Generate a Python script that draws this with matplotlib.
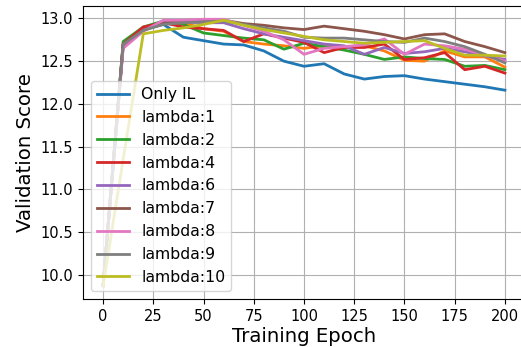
import matplotlib
matplotlib.use("Agg")
import matplotlib.pyplot as plt

# ---------- Data ----------
epochs = list(range(0, 201, 10))

only_il = [9.87, 12.70, 12.87, 12.93, 12.78, 12.74, 12.70, 12.69, 12.62, 12.50, 12.44,
           12.47, 12.35, 12.29, 12.32, 12.33, 12.29, 12.26, 12.23, 12.20, 12.16]
lambda_1 = [9.87, 12.71, 12.88, 12.95, 12.95, 12.88, 12.85, 12.73, 12.70, 12.68, 12.65,
            12.68, 12.67, 12.68, 12.62, 12.51, 12.50, 12.62, 12.55, 12.55, 12.43]
lambda_2 = [9.87, 12.73, 12.90, 12.97, 12.93, 12.83, 12.80, 12.77, 12.75, 12.64, 12.71,
            12.67, 12.63, 12.58, 12.52, 12.55, 12.53, 12.52, 12.44, 12.45, 12.40]
lambda_4 = [9.87, 12.70, 12.90, 12.95, 12.90, 12.88, 12.86, 12.73, 12.82, 12.77, 12.72,
            12.60, 12.66, 12.66, 12.70, 12.52, 12.54, 12.60, 12.40, 12.44, 12.36]
lambda_6 = [9.87, 12.68, 12.86, 12.96, 12.96, 12.95, 12.95, 12.88, 12.82, 12.78, 12.74,
            12.70, 12.68, 12.58, 12.66, 12.59, 12.61, 12.65, 12.61, 12.56, 12.52]
lambda_7 = [9.87, 12.68, 12.86, 12.95, 12.96, 12.97, 12.98, 12.94, 12.92, 12.89, 12.87,
            12.91, 12.88, 12.85, 12.81, 12.76, 12.81, 12.82, 12.73, 12.67, 12.60]
lambda_8 = [9.87, 12.65, 12.85, 12.98, 12.98, 12.99, 12.99, 12.92, 12.85, 12.75, 12.58,
            12.65, 12.67, 12.69, 12.76, 12.58, 12.70, 12.68, 12.64, 12.57, 12.50]
lambda_9 = [9.87, 12.70, 12.86, 12.93, 12.95, 12.96, 12.97, 12.93, 12.89, 12.85, 12.78,
            12.77, 12.77, 12.75, 12.73, 12.72, 12.77, 12.73, 12.67, 12.58, 12.48]
lambda_10 = [9.87, 11.35, 12.82, 12.86, 12.89, 12.93, 12.98, 12.92, 12.87, 12.83, 12.79,
             12.75, 12.73, 12.71, 12.72, 12.73, 12.74, 12.65, 12.57, 12.57, 12.56]

series = [only_il, lambda_1, lambda_2, lambda_4, lambda_6,
          lambda_7, lambda_8, lambda_9, lambda_10]
labels = ["Only IL", "lambda:1", "lambda:2", "lambda:4", "lambda:6",
          "lambda:7", "lambda:8", "lambda:9", "lambda:10"]

# ---------- Figure ----------
W, H = 521, 347
fig = plt.figure(figsize=(W / 100, H / 100), dpi=100)
# right spine sits just past the canvas edge, as in the reference
ax = fig.add_axes([83 / W, 48 / H, (525 - 83) / W, (299 - 6) / H])

for vals, lab in zip(series, labels):
    ax.plot(epochs, vals, linewidth=2, label=lab)

ax.grid(True)
ax.tick_params(labelsize=10.5)
ax.set_xlabel("Training Epoch", fontsize=14.2, labelpad=2)
ax.set_ylabel("Validation Score", fontsize=14.2)
ax.legend(loc="lower left", fontsize=11.3)

fig.savefig("out.png", dpi=100)
